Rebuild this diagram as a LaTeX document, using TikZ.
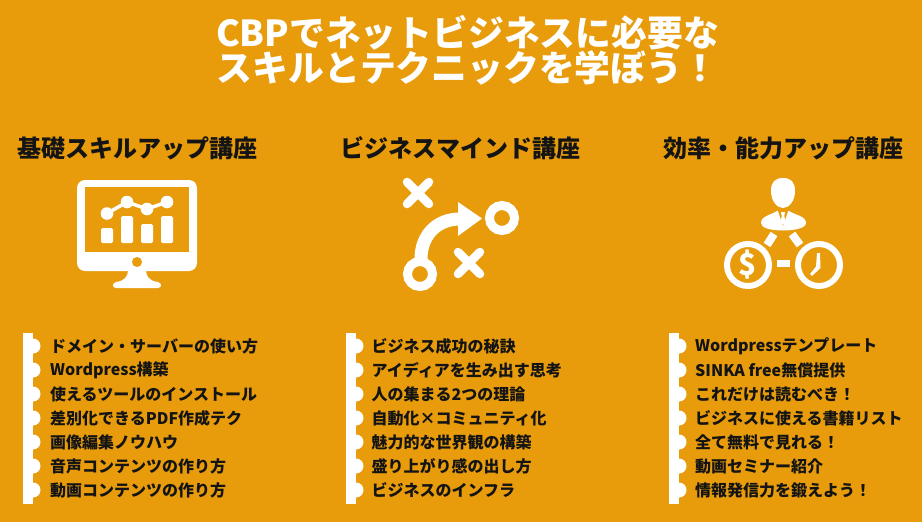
\documentclass[tikz,border=0pt]{standalone}
\usepackage{fontspec}
\setmainfont{Noto Sans CJK JP}
\usepackage{tikz}
\usetikzlibrary{matrix, positioning}
\definecolor{cbporange}{HTML}{E89C0C}
\definecolor{cbpink}{HTML}{141414}

\begin{document}
\begin{tikzpicture}[
    x=1pt, y=-1pt,
    main_title/.style={text=white, align=center, inner sep=0pt, font=\fontsize{35.8}{35}\selectfont\bfseries},
    course_title/.style={text=cbpink, inner sep=0pt, font=\fontsize{24}{26}\selectfont\bfseries},
    list item/.style={text=cbpink, inner sep=0pt, minimum height=24pt, anchor=west, font=\fontsize{16}{18}\selectfont\bfseries},
    list bar/.style={fill=white, minimum width=10pt, minimum height=171pt, inner sep=0pt, anchor=north west},
    bump/.style={fill=white, circle, minimum size=15pt, inner sep=0pt},
    icon/.style={white, fill=white, line width=0pt},
    icon line/.style={white, line cap=round, line join=round}
]
    % Background
    \fill[cbporange] (0,0) rectangle (922,522);
    \useasboundingbox (0,0) rectangle (922,522);

    % Title
    \node[main_title] (title) at (467.5,50.5) {CBPでネットビジネスに必要な\\スキルとテクニックを学ぼう！};

    % Course titles
    \node[course_title] (course_a) at (137.5,148) {基礎スキルアップ講座};
    \node[course_title] (course_b) at (460.5,148) {ビジネスマインド講座};
    \node[course_title] (course_c) at (783.5,148) {効率・能力アップ講座};

    % Monitor icon
    \fill[icon, rounded corners=8pt] (77,180) rectangle (197,271);
    \fill[cbporange] (85,187) rectangle (189,252);
    \fill[cbporange] (137,262) circle (5);
    \fill[icon] (128,270) -- (146,270) .. controls (146,276) and (149,281) .. (158,282)
        .. controls (162,283) and (162,288) .. (158,288) -- (116,288)
        .. controls (112,288) and (112,283) .. (116,282)
        .. controls (125,281) and (128,276) .. (128,270) -- cycle;
    \fill[icon, rounded corners=1.5pt] (101,228) rectangle (113,243);
    \fill[icon, rounded corners=1.5pt] (121,216) rectangle (133,243);
    \fill[icon, rounded corners=1.5pt] (141,224) rectangle (153,243);
    \fill[icon, rounded corners=1.5pt] (161,216) rectangle (173,243);
    \draw[icon line, line width=3.5pt] (107,213.5) -- (127,202) -- (147,209) -- (167,202);
    \fill[icon] (107,213.5) circle (6.3) (127,202) circle (6.3) (147,209) circle (6.3) (167,202) circle (6.3);

    % Strategy icon
    \draw[icon line, line width=8.5pt] (407,182) -- (429,204) (429,182) -- (407,204);
    \draw[icon line, line width=8.5pt] (458,252) -- (480,274) (480,252) -- (458,274);
    \draw[white, line width=9pt] (502,218) circle (12.5);
    \draw[white, line width=9pt] (420,274) circle (12.5);
    \draw[white, line width=13pt] (421,259) .. controls (421,235) and (437,219) .. (460,219);
    \fill[icon, line join=round] (458,202) -- (482,218.5) -- (458,236) -- cycle;

    % Manager icon
    \fill[icon] (771,191) .. controls (771,182) and (775,178) .. (783,178)
        .. controls (791,178) and (795,182) .. (795,191)
        .. controls (795,201) and (789,208) .. (783,208)
        .. controls (777,208) and (771,201) .. (771,191) -- cycle;
    \fill[icon] (761,223) .. controls (761,216) and (771,215) .. (777,211) -- (789,211)
        .. controls (795,215) and (806,216) .. (806,223)
        .. controls (806,228) and (795,230.5) .. (783,230.5)
        .. controls (771,230.5) and (761,228) .. (761,223) -- cycle;
    \fill[cbporange] (778,211) -- (783,226) -- (788,211) -- cycle;
    \fill[icon] (781,212) -- (785,212) -- (784.3,216) -- (785.5,222) -- (783,225) -- (780.5,222) -- (781.7,216) -- cycle;
    \draw[white, line width=8pt] (774,234) -- (767,245);
    \draw[white, line width=8pt] (792,234) -- (800,245);
    \fill[icon] (777,260) rectangle (790,267);
    \draw[white, line width=6pt] (748,265) circle (21);
    \draw[white, line width=6pt] (819,265) circle (21);
    \node[text=white, inner sep=0pt, font=\fontsize{30}{30}\selectfont\bfseries] (dollar) at (748,265) {\$};
    \fill[icon] (817,253) -- (820,253) -- (820.5,268) -- (812,276) -- (810,274) -- (816,266.5) -- cycle;

    % Left list
    \node[list bar] (bar_a) at (23,333) {};
    \foreach \y in {346,370,394,418,442,466,490}
        \node[bump] at (33,\y) {};
    \matrix[matrix of nodes,
        anchor=north west,
        inner sep=0pt,
        row sep=0pt,
        nodes={list item},
    ] (list_a) at (50,334) {
        ドメイン・サーバーの使い方 \\
        Wordpress構築 \\
        使えるツールのインストール \\
        差別化できるPDF作成テク \\
        画像編集ノウハウ \\
        音声コンテンツの作り方 \\
        動画コンテンツの作り方 \\
    };

    % Middle list
    \node[list bar] (bar_b) at (346,333) {};
    \foreach \y in {346,370,394,418,442,466,490}
        \node[bump] at (356,\y) {};
    \matrix[matrix of nodes,
        anchor=north west,
        inner sep=0pt,
        row sep=0pt,
        nodes={list item},
    ] (list_b) at (371.5,334) {
        ビジネス成功の秘訣 \\
        アイディアを生み出す思考 \\
        人の集まる2つの理論 \\
        自動化×コミュニティ化 \\
        魅力的な世界観の構築 \\
        盛り上がり感の出し方 \\
        ビジネスのインフラ \\
    };

    % Right list
    \node[list bar] (bar_c) at (669,333) {};
    \foreach \y in {346,370,394,418,442,466,490}
        \node[bump] at (679,\y) {};
    \matrix[matrix of nodes,
        anchor=north west,
        inner sep=0pt,
        row sep=0pt,
        nodes={list item},
    ] (list_c) at (695,334) {
        Wordpressテンプレート \\
        SINKA free無償提供 \\
        これだけは読むべき！ \\
        ビジネスに使える書籍リスト \\
        全て無料で見れる！ \\
        動画セミナー紹介 \\
        情報発信力を鍛えよう！ \\
    };
\end{tikzpicture}
\end{document}
